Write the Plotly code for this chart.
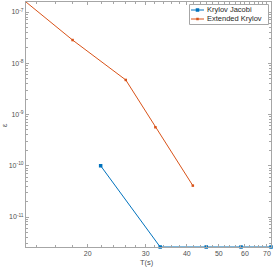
import plotly.graph_objects as go
import numpy as np

# Data
ek_T = [13.0, 18.0, 26.1, 32.1, 41.7]
ek_err = [1.57e-7, 2.84e-8, 4.73e-9, 5.65e-10, 4.1e-11]
kj_T = [21.9, 33.2, 45.8, 58.4, 72.0]
kj_err = [1.0e-10, 2.6e-12, 2.6e-12, 2.6e-12, 2.6e-12]

series_names = ["Krylov Jacobi", "Extended Krylov"]
x_ticks = [20, 30, 40, 50, 60, 70]
y_ticks = [1e-11, 1e-10, 1e-9, 1e-8, 1e-7]
y_ticktext = ["10<sup>-11</sup>", "10<sup>-10</sup>", "10<sup>-9</sup>", "10<sup>-8</sup>", "10<sup>-7</sup>"]

blue = "#0072BD"
orange = "#D95319"
axcol = "#a6a6a6"
txtcol = "#505050"
FONT = "Liberation Sans, Arial, sans-serif"

W, H = 274, 267
ML, MR, MT, MB = 26, 3, 2, 20

fig = go.Figure()
fig.add_trace(go.Scatter(x=kj_T, y=kj_err, mode="lines+markers", name=series_names[0],
                         line=dict(color=blue, width=1),
                         marker=dict(symbol="square", size=3.5, color=blue),
                         cliponaxis=False, showlegend=False))
fig.add_trace(go.Scatter(x=ek_T, y=ek_err, mode="lines+markers", name=series_names[1],
                         line=dict(color=orange, width=1),
                         marker=dict(symbol="square", size=2.5, color=orange),
                         cliponaxis=False, showlegend=False))

axis_common = dict(showline=True, linecolor=axcol, linewidth=1, mirror="ticks",
                   ticks="inside", ticklen=3, tickcolor=axcol, showgrid=False,
                   zeroline=False, tickfont=dict(family=FONT, size=7, color=txtcol))

minor_x = [v for v in range(14, 72, 2) if v not in x_ticks]
fig.update_xaxes(type="log", range=[np.log10(13), np.log10(72)],
                 tickvals=x_ticks, ticktext=[str(v) for v in x_ticks],
                 minor=dict(ticks="inside", ticklen=2, tickcolor=axcol, tickvals=minor_x),
                 **axis_common)
fig.update_yaxes(type="log", range=[np.log10(2.6e-12), np.log10(1.57e-7)],
                 tickvals=y_ticks, ticktext=y_ticktext,
                 minor=dict(ticks="inside", ticklen=2, tickcolor=axcol, dtick="D1"),
                 **axis_common)

# Compact MATLAB-style legend drawn with shapes/annotations (pixel -> paper coords)
pw, ph = W - ML - MR, H - MT - MB
def px(x):
    return (x - ML) / pw
def py(y):
    return 1 - (y - MT) / ph

shapes = [dict(type="rect", xref="paper", yref="paper", x0=px(189.5), x1=px(268.5),
               y0=py(24.5), y1=py(4.5), line=dict(color=axcol, width=1), fillcolor="white",
               layer="above")]
annotations = []
for i, (name, col, ms) in enumerate(zip(series_names, [blue, orange], [3.5, 2.5])):
    yy = 10 + 9 * i
    shapes.append(dict(type="line", xref="paper", yref="paper", x0=px(191), x1=px(204),
                       y0=py(yy), y1=py(yy), line=dict(color=col, width=1), layer="above"))
    shapes.append(dict(type="rect", xref="paper", yref="paper",
                       x0=px(197.5 - ms / 2), x1=px(197.5 + ms / 2),
                       y0=py(yy + ms / 2), y1=py(yy - ms / 2),
                       line=dict(color=col, width=0), fillcolor=col, layer="above"))
    annotations.append(dict(text=name, x=px(205), y=py(yy), xref="paper", yref="paper",
                            xanchor="left", yanchor="middle", showarrow=False,
                            font=dict(family=FONT, size=7.5, color="#262626")))

annotations += [
    dict(text="T(s)", x=px(147), y=py(262), xref="paper", yref="paper", xanchor="center", yanchor="middle",
         showarrow=False, font=dict(family=FONT, size=7.5, color=txtcol)),
    dict(text="ε", x=px(4), y=py(125), xref="paper", yref="paper", xanchor="center", yanchor="middle",
         textangle=-90, showarrow=False, font=dict(family=FONT, size=7.5, color=txtcol)),
]

fig.update_layout(
    width=W, height=H,
    margin=dict(l=ML, r=MR, t=MT, b=MB),
    plot_bgcolor="white", paper_bgcolor="white",
    showlegend=False,
    shapes=shapes,
    annotations=annotations,
)

fig.write_html("out.html", config={"displayModeBar": False},
               post_script="document.body.style.margin='0';document.body.style.overflow='hidden';")
